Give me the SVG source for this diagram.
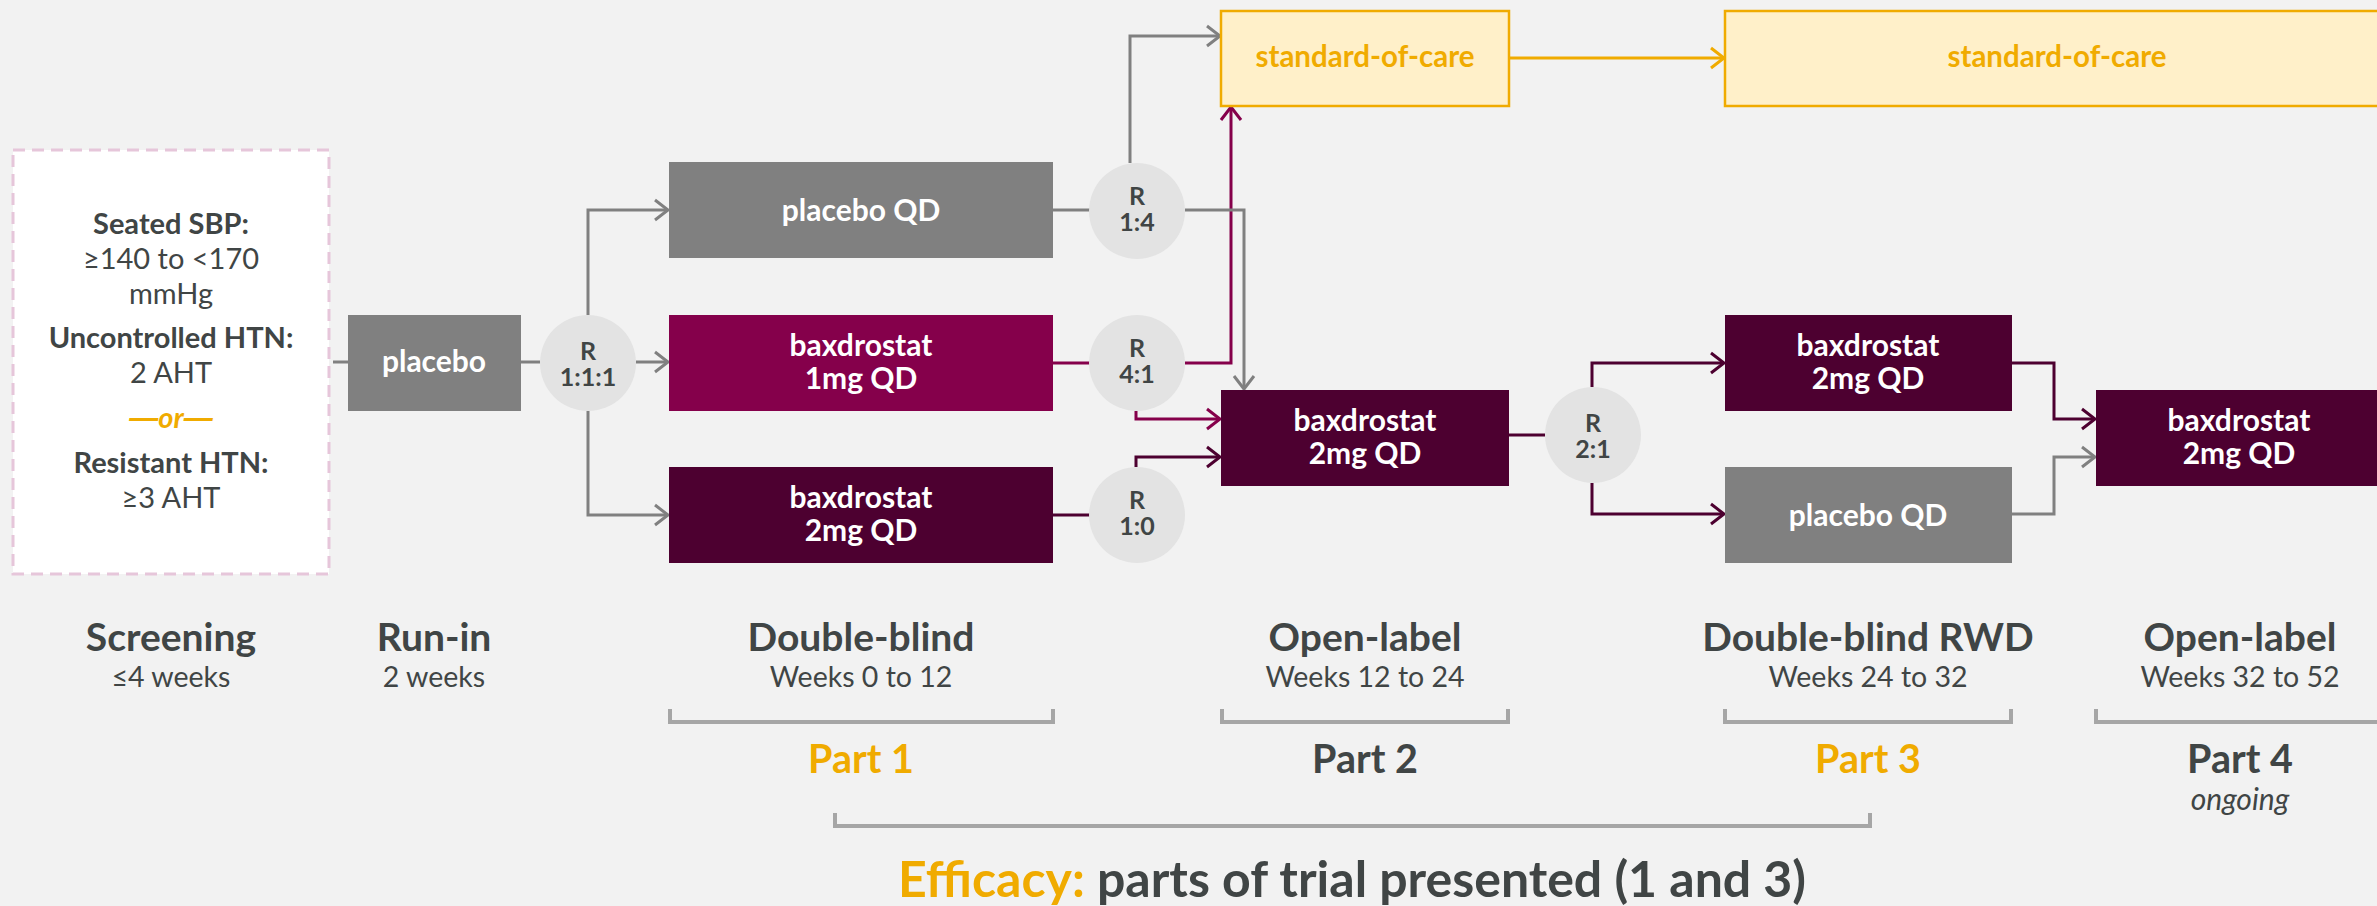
<svg xmlns="http://www.w3.org/2000/svg" width="2377" height="906" viewBox="0 0 2377 906">
  <style>
    text { font-family: Lato, "Open Sans", "Liberation Sans", sans-serif; text-anchor: middle; }
    .box-grey { fill: #808080; }
    .box-mag { fill: #85004B; }
    .box-dark { fill: #4D0030; }
    .box-soc { fill: #FFF0C9; stroke: #F0AB00; stroke-width: 2.5; }
    .rnode { fill: #E3E3E3; }
    .lbl { fill: #FFFFFF; font-weight: 700; font-size: 30px; }
    .soc { fill: #F0AB00; font-weight: 700; font-size: 29.5px; }
    .rtxt { fill: #404545; font-weight: 700; font-size: 25px; }
    .crit-b { fill: #404545; font-weight: 700; font-size: 29px; }
    .crit { fill: #404545; font-weight: 400; font-size: 29px; }
    .crit-or { fill: #F0AB00; font-weight: 700; font-style: italic; font-size: 29px; }
    .dash { font-family: "Liberation Sans", sans-serif; }
    .head { fill: #404545; font-weight: 700; font-size: 39px; }
    .sub { fill: #404545; font-weight: 400; font-size: 28.5px; }
    .part { fill: #404545; font-weight: 700; font-size: 39.5px; }
    .part-hl { fill: #F0AB00; font-weight: 700; font-size: 39.5px; }
    .note { fill: #404545; font-style: italic; font-size: 30px; }
    .eff { fill: #404545; font-weight: 700; font-size: 50px; }
    .bracket { fill: none; stroke: #A6A6A6; stroke-width: 4; }
    .c-grey { fill: none; stroke: #808080; stroke-width: 3; }
    .c-mag { fill: none; stroke: #85004B; stroke-width: 3; }
    .c-dark { fill: none; stroke: #4D0030; stroke-width: 3; }
    .c-or { fill: none; stroke: #F0AB00; stroke-width: 3; }
  </style>
  <defs>
    <marker id="ah-grey" markerUnits="userSpaceOnUse" viewBox="-16 -12 18 24" refX="0" refY="0" markerWidth="18" markerHeight="24" orient="auto" overflow="visible">
      <path d="M-13,-10 L0,0 L-13,10" fill="none" stroke="#808080" stroke-width="3"/>
    </marker>
    <marker id="ah-mag" markerUnits="userSpaceOnUse" viewBox="-16 -12 18 24" refX="0" refY="0" markerWidth="18" markerHeight="24" orient="auto" overflow="visible">
      <path d="M-13,-10 L0,0 L-13,10" fill="none" stroke="#85004B" stroke-width="3"/>
    </marker>
    <marker id="ah-dark" markerUnits="userSpaceOnUse" viewBox="-16 -12 18 24" refX="0" refY="0" markerWidth="18" markerHeight="24" orient="auto" overflow="visible">
      <path d="M-13,-10 L0,0 L-13,10" fill="none" stroke="#4D0030" stroke-width="3"/>
    </marker>
    <marker id="ah-or" markerUnits="userSpaceOnUse" viewBox="-16 -12 18 24" refX="0" refY="0" markerWidth="18" markerHeight="24" orient="auto" overflow="visible">
      <path d="M-13,-10 L0,0 L-13,10" fill="none" stroke="#F0AB00" stroke-width="3"/>
    </marker>
  </defs>

  <rect x="0" y="0" width="2377" height="906" fill="#F2F2F2"/>

  <!-- connectors -->
  <g id="connectors">
    <path class="c-grey" d="M333,362 H348"/>
    <path class="c-grey" d="M521,362 H540"/>
    <path class="c-grey" d="M588,315 V210 H668" marker-end="url(#ah-grey)"/>
    <path class="c-grey" d="M636,362 H668" marker-end="url(#ah-grey)"/>
    <path class="c-grey" d="M588,411 V515 H668" marker-end="url(#ah-grey)"/>
    <path class="c-grey" d="M1053,210 H1090"/>
    <path class="c-mag" d="M1053,363 H1090"/>
    <path class="c-dark" d="M1053,515 H1090"/>
    <path class="c-grey" d="M1130,163 V36 H1220" marker-end="url(#ah-grey)"/>
    <path class="c-mag" d="M1185,363 H1231 V107" marker-end="url(#ah-mag)"/>
    <path class="c-grey" d="M1185,210 H1244 V389" marker-end="url(#ah-grey)"/>
    <path class="c-mag" d="M1136,411 V419 H1220" marker-end="url(#ah-mag)"/>
    <path class="c-dark" d="M1136,467 V457 H1220" marker-end="url(#ah-dark)"/>
    <path class="c-or" d="M1510,58 H1724" marker-end="url(#ah-or)"/>
    <path class="c-dark" d="M1509,435 H1545"/>
    <path class="c-dark" d="M1592,387 V363 H1724" marker-end="url(#ah-dark)"/>
    <path class="c-dark" d="M1592,483 V514 H1724" marker-end="url(#ah-dark)"/>
    <path class="c-dark" d="M2011,363 H2054 V419 H2095" marker-end="url(#ah-dark)"/>
    <path class="c-grey" d="M2011,514 H2054 V457 H2095" marker-end="url(#ah-grey)"/>
  </g>

  <!-- screening criteria -->
  <g id="screening-criteria">
    <rect x="13" y="150" width="316" height="424" fill="#FFFFFF" stroke="#E6C6DA" stroke-width="3" stroke-dasharray="12 7"/>
    <text class="crit-b" x="171" y="234">Seated SBP:</text>
    <text class="crit" x="171" y="269">≥140 to &lt;170</text>
    <text class="crit" x="171" y="304">mmHg</text>
    <text class="crit-b" x="171" y="348">Uncontrolled HTN:</text>
    <text class="crit" x="171" y="383">2 AHT</text>
    <text class="crit-or" x="171" y="428"><tspan class="dash">—</tspan>or<tspan class="dash">—</tspan></text>
    <text class="crit-b" x="171" y="473">Resistant HTN:</text>
    <text class="crit" x="171" y="508">≥3 AHT</text>
  </g>

  <g id="runin-placebo">
    <rect class="box-grey" x="348" y="315" width="173" height="96"/>
    <text class="lbl" x="434" y="372">placebo</text>
  </g>

  <g id="rand-111">
    <circle class="rnode" cx="588" cy="363" r="48"/>
    <text class="rtxt" x="588" y="360">R</text>
    <text class="rtxt" x="588" y="386">1:1:1</text>
  </g>

  <!-- part 1 -->
  <g id="p1-placebo">
    <rect class="box-grey" x="669" y="162" width="384" height="96"/>
    <text class="lbl" x="861" y="221">placebo QD</text>
  </g>
  <g id="p1-bax1">
    <rect class="box-mag" x="669" y="315" width="384" height="96"/>
    <text class="lbl" x="861" y="356">baxdrostat</text>
    <text class="lbl" x="861" y="389">1mg QD</text>
  </g>
  <g id="p1-bax2">
    <rect class="box-dark" x="669" y="467" width="384" height="96"/>
    <text class="lbl" x="861" y="508">baxdrostat</text>
    <text class="lbl" x="861" y="541">2mg QD</text>
  </g>

  <g id="rand-14">
    <circle class="rnode" cx="1137" cy="211" r="48"/>
    <text class="rtxt" x="1137" y="205">R</text>
    <text class="rtxt" x="1137" y="231">1:4</text>
  </g>
  <g id="rand-41">
    <circle class="rnode" cx="1137" cy="363" r="48"/>
    <text class="rtxt" x="1137" y="357">R</text>
    <text class="rtxt" x="1137" y="383">4:1</text>
  </g>
  <g id="rand-10">
    <circle class="rnode" cx="1137" cy="515" r="48"/>
    <text class="rtxt" x="1137" y="509">R</text>
    <text class="rtxt" x="1137" y="535">1:0</text>
  </g>

  <!-- part 2 -->
  <g id="p2-soc">
    <rect class="box-soc" x="1221" y="11" width="288" height="95"/>
    <text class="soc" x="1365" y="67">standard-of-care</text>
  </g>
  <g id="p2-bax2">
    <rect class="box-dark" x="1221" y="390" width="288" height="96"/>
    <text class="lbl" x="1365" y="431">baxdrostat</text>
    <text class="lbl" x="1365" y="464">2mg QD</text>
  </g>

  <g id="rand-21">
    <circle class="rnode" cx="1593" cy="435" r="48"/>
    <text class="rtxt" x="1593" y="432">R</text>
    <text class="rtxt" x="1593" y="458">2:1</text>
  </g>

  <!-- part 3 -->
  <g id="p3-soc">
    <rect class="box-soc" x="1725" y="11" width="680" height="95"/>
    <text class="soc" x="2057" y="67">standard-of-care</text>
  </g>
  <g id="p3-bax2">
    <rect class="box-dark" x="1725" y="315" width="287" height="96"/>
    <text class="lbl" x="1868" y="356">baxdrostat</text>
    <text class="lbl" x="1868" y="389">2mg QD</text>
  </g>
  <g id="p3-placebo">
    <rect class="box-grey" x="1725" y="467" width="287" height="96"/>
    <text class="lbl" x="1868" y="526">placebo QD</text>
  </g>

  <!-- part 4 -->
  <g id="p4-bax2">
    <rect class="box-dark" x="2096" y="390" width="290" height="96"/>
    <text class="lbl" x="2239" y="431">baxdrostat</text>
    <text class="lbl" x="2239" y="464">2mg QD</text>
  </g>

  <!-- phase labels -->
  <g id="phase-labels">
    <text class="head" x="171" y="651">Screening</text>
    <text class="sub" x="171" y="687">≤4 weeks</text>
    <text class="head" x="434" y="651">Run-in</text>
    <text class="sub" x="434" y="687">2 weeks</text>
    <text class="head" x="861" y="651">Double-blind</text>
    <text class="sub" x="861" y="687">Weeks 0 to 12</text>
    <text class="head" x="1365" y="651">Open-label</text>
    <text class="sub" x="1365" y="687">Weeks 12 to 24</text>
    <text class="head" x="1868" y="651">Double-blind RWD</text>
    <text class="sub" x="1868" y="687">Weeks 24 to 32</text>
    <text class="head" x="2240" y="651">Open-label</text>
    <text class="sub" x="2240" y="687">Weeks 32 to 52</text>

    <path class="bracket" d="M670,709 V722 H1053 V709"/>
    <path class="bracket" d="M1222,709 V722 H1508 V709"/>
    <path class="bracket" d="M1725,709 V722 H2011 V709"/>
    <path class="bracket" d="M2096,709 V722 H2390"/>

    <text class="part-hl" x="861" y="773">Part 1</text>
    <text class="part" x="1365" y="773">Part 2</text>
    <text class="part-hl" x="1868" y="773">Part 3</text>
    <text class="part" x="2240" y="773">Part 4</text>
    <text class="note" x="2240" y="810">ongoing</text>

    <path class="bracket" d="M835,813 V826 H1870 V813"/>
    <text class="eff" x="1352" y="897"><tspan fill="#F0AB00">Efficacy:</tspan> parts of trial presented (1 and 3)</text>
  </g>
</svg>
